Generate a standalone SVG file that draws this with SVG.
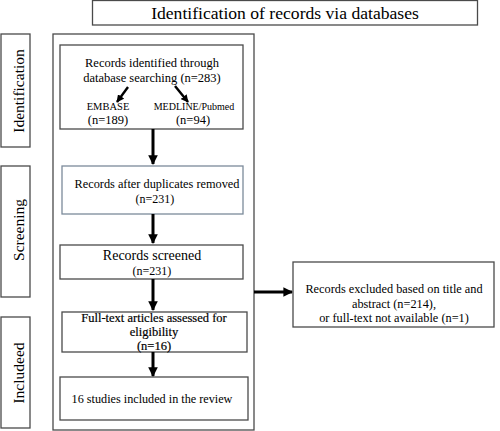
<svg xmlns="http://www.w3.org/2000/svg" width="500" height="431" viewBox="0 0 500 431">
<defs>
<marker id="ah" viewBox="0 0 10 10" refX="9" refY="5" markerWidth="3.2" markerHeight="3.2" orient="auto" markerUnits="strokeWidth">
<path d="M0,0 L10,5 L0,10 z" fill="#000"/>
</marker>
<marker id="ahs" viewBox="0 0 10 10" refX="9" refY="5" markerWidth="3.2" markerHeight="3.2" orient="auto" markerUnits="strokeWidth">
<path d="M0,0 L10,5 L0,10 z" fill="#000"/>
</marker>
</defs>
<style>
text{font-family:"Liberation Serif","Times New Roman",serif;fill:#000;text-anchor:middle}
.box{fill:#fff;stroke:#4a4a4a;stroke-width:1.3}
.arr{stroke:#000;stroke-width:3;fill:none;marker-end:url(#ah)}
.arrs{stroke:#000;stroke-width:2.4;fill:none;marker-end:url(#ahs)}
.side{font-size:15.5px}
</style>
<rect width="500" height="431" fill="#fff"/>
<g id="title">
<rect class="box" x="92.5" y="0.5" width="385" height="24.5"/>
<text x="285" y="19" font-size="17.6">Identification of records via databases</text>
</g>
<g id="stage-identification">
<rect class="box" x="1" y="34" width="29" height="113"/>
<text class="side" transform="translate(24,91) rotate(-90)">Identification</text>
</g>
<g id="stage-screening">
<rect class="box" x="1" y="166" width="29" height="131"/>
<text class="side" transform="translate(24,230) rotate(-90)">Screening</text>
</g>
<g id="stage-included">
<rect class="box" x="1" y="317" width="29" height="111"/>
<text class="side" transform="translate(24,373) rotate(-90)">Includeed</text>
</g>
<g id="outer">
<rect class="box" x="53" y="34" width="201" height="396" fill="none"/>
</g>
<g id="n-identified">
<rect class="box" x="60" y="45" width="183" height="84"/>
<text x="152" y="67" font-size="12.5">Records identified through</text>
<text x="152" y="82" font-size="12.5">database searching  (n=283)</text>
<text x="108" y="110" font-size="10.5">EMBASE</text>
<text x="108" y="124" font-size="12.5">(n=189)</text>
<text x="194" y="110" font-size="10">MEDLINE/Pubmed</text>
<text x="193" y="124" font-size="12.5">(n=94)</text>
</g>
<g id="n-dedup">
<rect class="box" x="62" y="166" width="181" height="48" style="stroke:#7c8a9a"/>
<text x="157" y="188" font-size="12.3">Records after duplicates removed</text>
<text x="155" y="203" font-size="12">(n=231)</text>
</g>
<g id="n-screened">
<rect class="box" x="60" y="245" width="183" height="34"/>
<text x="152" y="260" font-size="14">Records screened</text>
<text x="152" y="275" font-size="12">(n=231)</text>
</g>
<g id="n-fulltext">
<rect class="box" x="62" y="312" width="185" height="40"/>
<g stroke="#000" stroke-width="0.2">
<text x="154" y="322" font-size="12.5">Full-text articles assessed for</text>
<text x="154" y="336" font-size="12.5">eligibility</text>
<text x="154" y="350" font-size="12.5">(n=16)</text>
</g>
</g>
<g id="n-included">
<rect class="box" x="60" y="377" width="188" height="43"/>
<text x="152" y="403" font-size="12.2">16 studies included in the review</text>
</g>
<g id="n-excluded">
<rect class="box" x="293" y="262" width="201" height="65"/>
<text x="394" y="293" font-size="12.3">Records  excluded based on title and</text>
<text x="394" y="308" font-size="12.3">abstract  (n=214),</text>
<text x="394" y="322" font-size="12.3">or full-text not available (n=1)</text>
</g>
<g id="connectors">
<line class="arrs" x1="128" y1="87" x2="117" y2="102"/>
<line class="arrs" x1="175" y1="86" x2="188" y2="102"/>
<line class="arr" x1="153" y1="129" x2="153" y2="164"/>
<line class="arr" x1="153" y1="214" x2="153" y2="243"/>
<line class="arr" x1="153" y1="279" x2="153" y2="310"/>
<line class="arr" x1="153" y1="352" x2="153" y2="376"/>
<line class="arr" x1="254" y1="292" x2="292" y2="292"/>
</g>
</svg>
